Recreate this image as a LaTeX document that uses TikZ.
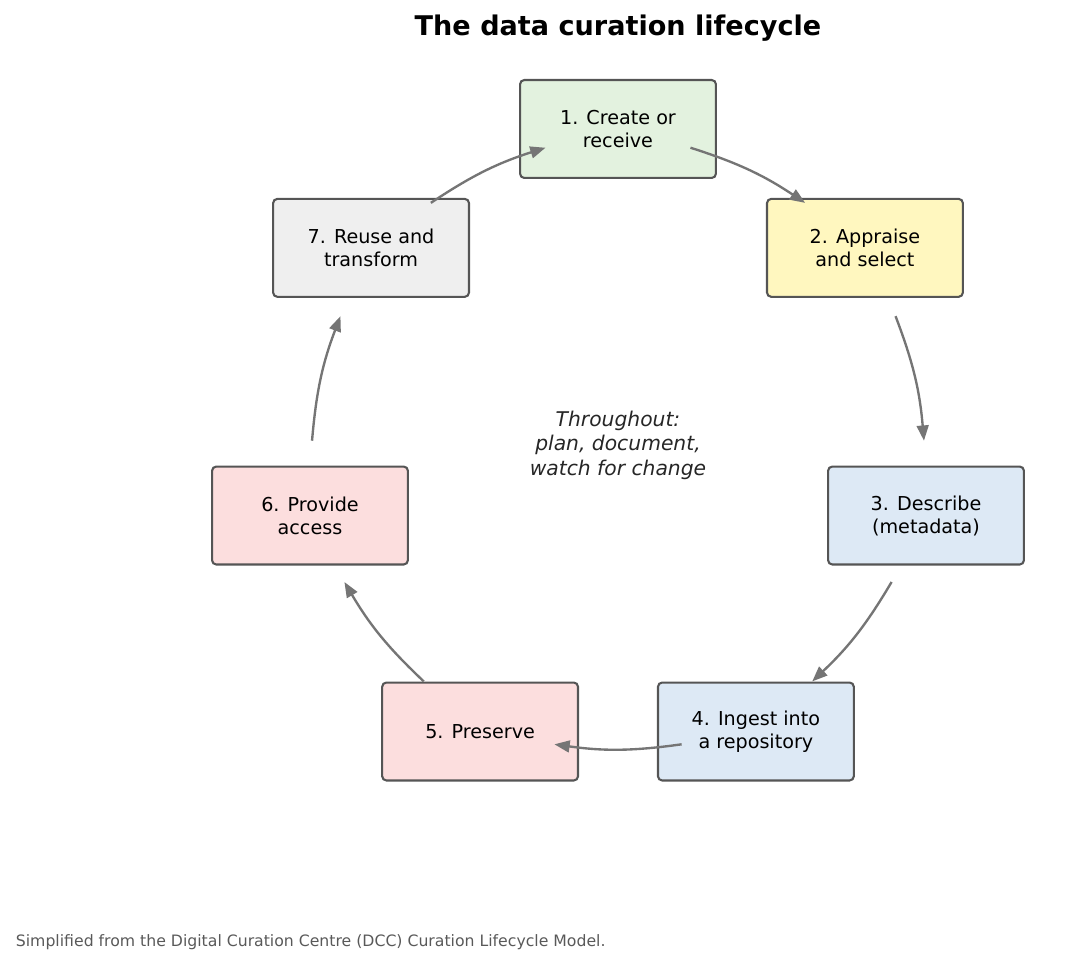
\documentclass[tikz,border=0pt]{standalone}
\usepackage{fontspec}
\setmainfont{DejaVu Sans}
\usepackage{xcolor}
\usepackage{tikz}
\usetikzlibrary{positioning,calc,arrows.meta}

\definecolor{boxline}{HTML}{555555}
\definecolor{flowgray}{HTML}{757575}
\definecolor{fgreen}{HTML}{E3F2DF}
\definecolor{fyellow}{HTML}{FFF7BF}
\definecolor{fblue}{HTML}{DDE9F5}
\definecolor{fpink}{HTML}{FCDEDE}
\definecolor{fgray}{HTML}{EFEFEF}

\begin{document}
\begin{tikzpicture}[
      x=0.72pt, y=0.72pt,
      base/.style={rectangle, draw=boxline, line width=1.5pt, rounded corners=3pt,
        minimum width=141pt, minimum height=70.5pt, align=center,
        font=\fontsize{13.8}{16.6}\selectfont},
      create/.style={base,fill=fgreen},
      appraise/.style={base,fill=fyellow},
      describe/.style={base,fill=fblue},
      keep/.style={base,fill=fpink},
      reuse/.style={base,fill=fgray},
      flow/.style={draw=flowgray, line width=1.7pt, -{Triangle[length=11pt,width=8.5pt]}},
    ]
      \useasboundingbox (0,0) rectangle (1073,966);
      \coordinate (ctr) at (618,521);

      % title
      \node[font=\fontsize{19.5}{23}\selectfont\bfseries] (title) at (618,938) {The data curation lifecycle};

      % stages
      \node[create]   (s1) at ($ (ctr) + (90:316) $)     {1. Create or\\receive};
      \node[appraise] (s2) at ($ (ctr) + (38.6:316) $)   {2. Appraise\\and select};
      \node[describe] (s3) at ($ (ctr) + (-12.9:316) $)  {3. Describe\\(metadata)};
      \node[describe] (s4) at ($ (ctr) + (-64.3:318) $)  {4. Ingest into\\a repository};
      \node[keep]     (s5) at ($ (ctr) + (-115.7:318) $) {5. Preserve};
      \node[keep]     (s6) at ($ (ctr) + (-167.1:316) $) {6. Provide\\access};
      \node[reuse]    (s7) at ($ (ctr) + (141.4:316) $)  {7. Reuse and\\transform};

      % centre note
      \node[align=center, text=black!85, font=\fontsize{14.6}{17.6}\selectfont\itshape] (note) at (ctr)
        {Throughout:\\plan, document,\\watch for change};

      % arrow ends
      \foreach \i/\a in {1/90, 2/38.6, 3/-12.9, 4/-64.3, 5/-115.7, 6/-167.1, 7/141.4} {
        \coordinate (s\i out) at ($ (ctr) + (\a-13.7:306) $);
        \coordinate (s\i in)  at ($ (ctr) + (\a+13.7:306) $);
      }

      \draw[flow] (s1out) to[bend left=8] (s2in);
      \draw[flow] (s2out) to[bend left=8] (s3in);
      \draw[flow] (s3out) to[bend left=8] (s4in);
      \draw[flow] (s4out) to[bend left=8] (s5in);
      \draw[flow] (s5out) to[bend left=8] (s6in);
      \draw[flow] (s6out) to[bend left=8] (s7in);
      \draw[flow] (s7out) to[bend left=8] (s1in);

      % footer
      \node[anchor=west, text=black!65, font=\fontsize{11.3}{13}\selectfont] (source) at (11,24)
        {Simplified from the Digital Curation Centre (DCC) Curation Lifecycle Model.};
\end{tikzpicture}
\end{document}
